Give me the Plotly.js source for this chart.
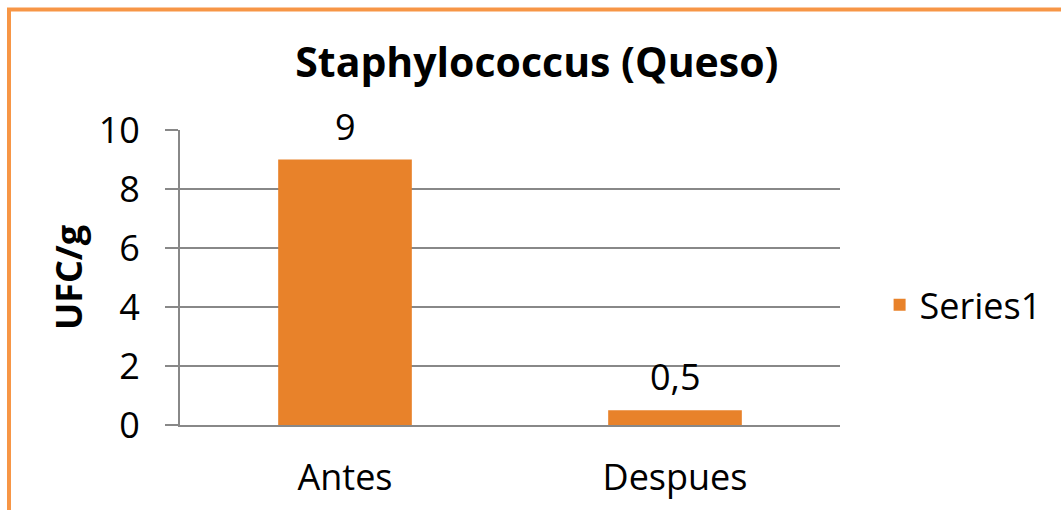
<!DOCTYPE html>
<html>
<head>
<meta charset="utf-8">
<script src="https://cdn.plot.ly/plotly-3.0.1.min.js"></script>
<style>html,body{margin:0;padding:0;background:#fff;}#chart{width:1061px;height:510px;}</style>
</head>
<body>
<div id="chart"></div>
<script>
const categories = ["Antes", "Despues"];
const seriesName = "Series1";
const values = [9, 0.5];
const valueLabels = ["9", "0,5"];
const yTicks = [0, 2, 4, 6, 8, 10];

const FONT = "Open Sans, Lato, sans-serif";

const trace = {
  type: "bar",
  x: categories,
  y: values,
  name: seriesName,
  width: 0.405,
  marker: {color: "#E8822A", line: {width: 0}},
  showlegend: true
};

const labelAnnotations = categories.map((c, i) => ({
  x: c, y: values[i], xref: "x", yref: "y",
  text: valueLabels[i], showarrow: false,
  yanchor: "bottom", yshift: 7,
  font: {family: FONT, size: 36, color: "#000"}
}));

const layout = {
  width: 1061,
  height: 510,
  margin: {l: 180, r: 221, t: 130, b: 85},
  paper_bgcolor: "#fff",
  plot_bgcolor: "#fff",
  font: {family: FONT, size: 36, color: "#000"},
  title: {
    text: "<b>Staphylococcus (Queso)</b>",
    font: {family: FONT, size: 41, color: "#000"},
    x: 0.506, xanchor: "center",
    y: 0.878, yanchor: "middle"
  },
  xaxis: {
    type: "category",
    showline: true, linecolor: "#888", linewidth: 2,
    showgrid: false, ticks: "",
    tickfont: {family: FONT, size: 36, color: "#000"},
    ticklabelstandoff: 20
  },
  yaxis: {
    range: [0, 10],
    tickvals: yTicks,
    showline: true, linecolor: "#888", linewidth: 2,
    showgrid: true, gridcolor: "#888", gridwidth: 1.5,
    ticks: "outside", ticklen: 13, tickcolor: "#888", tickwidth: 1.5,
    zeroline: false,
    tickfont: {family: FONT, size: 36, color: "#000"},
    ticklabelstandoff: 18,
    title: {text: "<b>UFC/g</b>", font: {family: FONT, size: 36, color: "#000"}, standoff: 5}
  },
  legend: {
    x: 1.06, xanchor: "left",
    y: 0.407, yanchor: "middle",
    font: {family: FONT, size: 36, color: "#000"},
    bgcolor: "rgba(0,0,0,0)"
  },
  annotations: labelAnnotations,
  shapes: [{
    type: "rect", xref: "paper", yref: "paper",
    x0: (9 - 180) / 660, x1: 2,
    y0: -1, y1: (425 - 9.5) / 295,
    line: {color: "#F79646", width: 4},
    fillcolor: "rgba(0,0,0,0)",
    layer: "above"
  }]
};

Plotly.newPlot("chart", [trace], layout, {displayModeBar: false, staticPlot: true});
</script>
</body>
</html>
